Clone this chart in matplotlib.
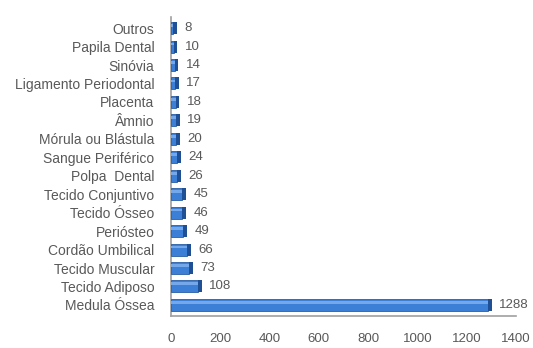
import matplotlib.pyplot as plt

# categories (top to bottom as shown) and counts
categories = ['Outros', 'Papila Dental', 'Sinóvia', 'Ligamento Periodontal', 'Placenta',
              'Âmnio', 'Mórula ou Blástula', 'Sangue Periférico', 'Polpa  Dental',
              'Tecido Conjuntivo', 'Tecido Ósseo', 'Periósteo', 'Cordão Umbilical',
              'Tecido Muscular', 'Tecido Adiposo', 'Medula Óssea']
counts = [8, 10, 14, 17, 18, 19, 20, 24, 26, 45, 46, 49, 66, 73, 108, 1288]
xticks = [0, 200, 400, 600, 800, 1000, 1200, 1400]

plt.rcParams['font.family'] = ['Liberation Sans', 'DejaVu Sans']
text_color = '#595959'

fig = plt.figure(figsize=(5.33, 3.48), dpi=100)
ax = fig.add_axes([0.321, 0.092, 0.647, 0.859])

ypos = list(range(len(categories)))[::-1]
# bar body plus a darker end cap to mimic the 3D look
ax.barh(ypos, counts, height=0.65, color='#3c7fd6', edgecolor='#2a5ea3', linewidth=0.6, zorder=3)
ax.barh(ypos, [16] * len(counts), left=counts, height=0.65, color='#1f4f94', linewidth=0, zorder=3)
ax.barh([y + 0.14 for y in ypos], counts, height=0.15, color='#74a8ea', linewidth=0, zorder=4)

for y, v in zip(ypos, counts):
    ax.text(v + 45, y, str(v), va='center', ha='left', fontsize=9.5, color=text_color)

ax.set_xlim(0, 1400)
ax.set_ylim(-0.6, len(categories) - 0.4)
ax.set_xticks(xticks)
ax.set_yticks(ypos)
ax.set_yticklabels(categories)
ax.tick_params(axis='both', length=0, labelsize=10, labelcolor=text_color)
ax.tick_params(axis='x', pad=12, labelsize=9.5)
ax.tick_params(axis='y', pad=12)

for s in ['top', 'right']:
    ax.spines[s].set_visible(False)
ax.spines['left'].set_color('#a0a0a0')
ax.spines['bottom'].set_color('#a0a0a0')
ax.spines['left'].set_linewidth(1.2)
ax.spines['bottom'].set_linewidth(1.2)

fig.savefig('out.png', dpi=100)
